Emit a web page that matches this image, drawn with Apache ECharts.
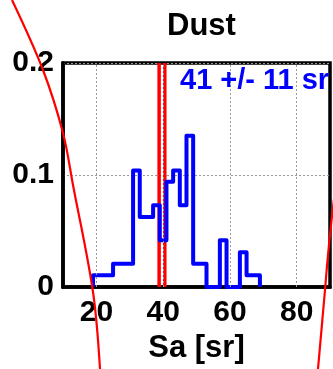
<!DOCTYPE html>
<html>
<head>
<meta charset="utf-8">
<script src="https://cdn.jsdelivr.net/npm/echarts@6/dist/echarts.min.js"></script>
<style>html,body{margin:0;padding:0;background:#fff;}#c{width:333px;height:369px;}</style>
</head>
<body>
<div id="c"></div>
<script>
// Histogram bin left edges (Sa, sr) and relative frequencies
const binLeft = [19,21,23,25,27,29,31,33,35,37,39,41,43,45,47,49,51,53,55,57,59,61,63,65,67];
const binFreq = [0.0104,0.0104,0.0104,0.0208,0.0208,0.0208,0.104,0.0625,0.0625,0.0729,0.0417,0.094,0.104,0.073,0.135,0.0208,0.0208,0,0,0.0417,0,0,0.031,0.0104,0.0104];
const binEnd = 69;
// Red reference lines (Sa)
const refLines = [38.8, 40.5];
// Grid / tick values
const xGridTicks = [20,40,60,80];
const xLabelTicks = [20,40,60,80];
const titleText = 'Dust';
const annotText = '41 +/- 11 sr';
const xName = 'Sa [sr]';

const FONT = 'Liberation Sans, Arial, sans-serif';

const histData = [[binLeft[0],0]];
for (let i=0;i<binLeft.length;i++) histData.push([binLeft[i], binFreq[i]]);
histData.push([binEnd, 0]);

const chart = echarts.init(document.getElementById('c'), null, {renderer:'canvas'});

const series = [];
// vertical dotted grid lines
series.push({
  type:'line', data:[], silent:true,
  markLine:{symbol:'none', silent:true, label:{show:false},
    lineStyle:{color:'#999999', type:[2,2], width:1},
    data: xGridTicks.map(v=>({xAxis:v}))}
});
refLines.forEach(v=>{
  series.push({type:'line', data:[[v,0],[v,0.2]], symbol:'none', silent:true,
    lineStyle:{color:'#ff0000', width:3.5}, z:3});
});
series.push({
  type:'line', data:histData, step:'end', symbol:'none', silent:true,
  lineStyle:{color:'#0000ff', width:4, join:'round'}, z:4, clip:false
});

chart.setOption({
  animation:false,
  title:{text:titleText, left:162, top:6, textStyle:{fontFamily:FONT, fontWeight:'bold', fontSize:31, color:'#000'}},
  grid:{left:63, right:3, top:63, bottom:78, show:true, borderColor:'#000', borderWidth:3.5, backgroundColor:'#fff'},
  xAxis:{type:'value', min:10, max:90, interval:10,
    name:xName, nameLocation:'middle', nameGap:46,
    nameTextStyle:{fontFamily:FONT, fontWeight:'bold', fontSize:31, color:'#000'},
    axisLine:{show:true, lineStyle:{color:'#000', width:3.5}},
    axisTick:{show:false},
    splitLine:{show:false},
    axisLabel:{margin:11, fontFamily:FONT, fontWeight:'bold', fontSize:30, color:'#000',
      formatter:v=> xLabelTicks.indexOf(v)>=0 ? String(v) : ''}
  },
  yAxis:{type:'value', min:0, max:0.2, interval:0.1,
    axisLine:{show:true, lineStyle:{color:'#000', width:3.5}},
    axisTick:{show:false},
    splitLine:{show:true, lineStyle:{color:'#999999', type:[2,2], width:1}},
    axisLabel:{margin:9, fontFamily:FONT, fontWeight:'bold', fontSize:30, color:'#000'}
  },
  series:series,
  graphic:[
    {type:'text', left:180, top:66, z:10, style:{text:annotText, fill:'#0000ff', font:'bold 29px '+FONT}},
    {type:'polyline', z:20, silent:true, shape:{points:[[12,0],[43,70],[63,133],[73,185],[93,292],[100,369]], smooth:0.35},
      style:{stroke:'#ff0000', lineWidth:2.2, fill:null}},
    {type:'polyline', z:20, silent:true, shape:{points:[[336,185],[333,207],[328,255],[325,290],[318,369]], smooth:0.35},
      style:{stroke:'#ff0000', lineWidth:2.2, fill:null}}
  ]
});
</script>
</body>
</html>
